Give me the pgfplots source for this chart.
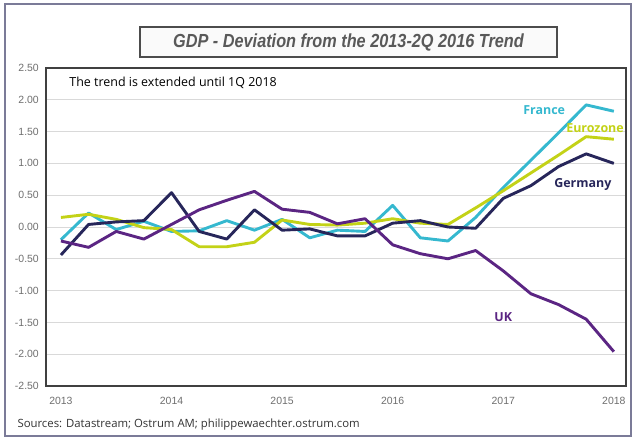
\documentclass[border=0pt]{standalone}
\usepackage{fontspec}
\setmainfont{Open Sans}
\newfontfamily\tickfont{Liberation Sans}
\newfontfamily\titlefont[FakeStretch=0.86]{Liberation Sans}
\usepackage{pgfplots}
\usepackage{pgfplotstable}
\pgfplotsset{compat=1.18}

\definecolor{franceC}{HTML}{35B8CF}
\definecolor{euroC}{HTML}{C3D217}
\definecolor{germanyC}{HTML}{27265A}
\definecolor{ukC}{HTML}{5B2583}
\definecolor{frameC}{HTML}{7B7B98}
\definecolor{gridC}{HTML}{D9D9D9}
\definecolor{tickC}{HTML}{6E6E6E}
\definecolor{titleC}{HTML}{595959}

% deviation from trend, quarterly 2013Q1 - 2018Q1
\pgfplotstableread{
t        fr     ez     de     uk
2013.00 -0.20  0.15  -0.44  -0.22
2013.25  0.22  0.20   0.04  -0.32
2013.50 -0.04  0.12   0.08  -0.07
2013.75  0.09 -0.01   0.10  -0.19
2014.00 -0.07 -0.04   0.54   0.04
2014.25 -0.06 -0.31  -0.07   0.27
2014.50  0.10 -0.31  -0.19   0.42
2014.75 -0.05 -0.24   0.27   0.56
2015.00  0.12  0.11  -0.05   0.28
2015.25 -0.17  0.04  -0.03   0.23
2015.50 -0.05  0.03  -0.14   0.05
2015.75 -0.07  0.06  -0.14   0.13
2016.00  0.34  0.13   0.06  -0.28
2016.25 -0.17  0.06   0.10  -0.42
2016.50 -0.22  0.04   0.00  -0.50
2016.75  0.15  0.30  -0.02  -0.37
2017.00  0.62  0.57   0.45  -0.69
2017.25  1.05  0.85   0.65  -1.05
2017.50  1.48  1.13   0.95  -1.22
2017.75  1.92  1.42   1.15  -1.45
2018.00  1.82  1.38   1.00  -1.96
}\gdp

\begin{document}
\begin{tikzpicture}
\useasboundingbox (0,0) rectangle (640bp,440bp);
\draw[frameC, line width=1.6bp] (5bp,4bp) rectangle (631bp,436bp);
\node[draw=black!70, fill=gray!4, line width=1.5bp, minimum width=417bp, minimum height=30bp,
  text=titleC, font=\titlefont\bfseries\itshape\fontsize{19}{22}\selectfont]
  at (348.5bp,398bp) {GDP - Deviation from the 2013-2Q 2016 Trend};

\begin{axis}[
at={(46bp,54bp)}, anchor=south west,
scale only axis, width=580bp, height=318bp,
xmin=2012.865, xmax=2018.11, ymin=-2.5, ymax=2.5,
xtick={2013,2014,2015,2016,2017,2018},
xticklabels={2013,2014,2015,2016,2017,2018},
ytick={-2.5,-2,-1.5,-1,-0.5,0,0.5,1,1.5,2,2.5},
ymajorgrids, grid style={gridC, line width=0.9bp},
major tick length=0pt,
axis line style={draw=black!75, line width=1.2bp},
tick label style={font=\tickfont\fontsize{10.5}{12}\selectfont, text=tickC},
yticklabel style={/pgf/number format/fixed, /pgf/number format/fixed zerofill,
  /pgf/number format/precision=2, /pgf/number format/assume math mode=true,
  anchor=east, inner sep=0pt, xshift=-7bp},
xticklabel style={anchor=north, inner sep=0pt, yshift=-11bp},
clip=false,
every axis plot/.append style={line width=2.9bp, line join=round, no markers},
]
\addplot[franceC] table[x=t, y=fr] {\gdp};
\addplot[euroC] table[x=t, y=ez] {\gdp};
\addplot[germanyC] table[x=t, y=de] {\gdp};
\addplot[ukC] table[x=t, y=uk] {\gdp};

\node[anchor=west, font=\fontsize{12.5}{14}\selectfont] at (axis cs:2013.045,2.26) {The trend is extended until 1Q 2018};
\node[franceC, font=\bfseries\fontsize{12.5}{14}\selectfont] at (axis cs:2017.37,1.83) {France};
\node[euroC, font=\bfseries\fontsize{12.5}{14}\selectfont] at (axis cs:2017.83,1.55) {Eurozone};
\node[germanyC, font=\bfseries\fontsize{12.5}{14}\selectfont] at (axis cs:2017.72,0.67) {Germany};
\node[ukC, font=\bfseries\fontsize{12.5}{14}\selectfont] at (axis cs:2017.0,-1.42) {UK};
\end{axis}

\node[anchor=west, text=black!80, font=\fontsize{11.4}{13}\selectfont] at (14bp,15bp) {Sources: Datastream; Ostrum AM; philippewaechter.ostrum.com};
\end{tikzpicture}
\end{document}
